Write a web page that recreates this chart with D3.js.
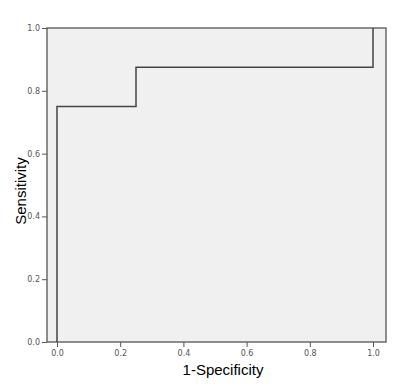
<!DOCTYPE html>
<meta charset="utf-8">
<style>
    body { margin: 0; background: #fff; }
    .tick text { font-family: "DejaVu Sans", sans-serif; font-size: 8px; fill: #555; }
    .tick line { stroke: #555; }
    .domain { display: none; }
</style>
<svg width="400" height="389"></svg>
<script src="https://d3js.org/d3.v7.min.js"></script>
<script>
    // ROC curve points (1-specificity, sensitivity)
    var fpr = [0, 0, 0.25, 0.25, 1, 1];
    var tpr = [0, 0.75, 0.75, 0.875, 0.875, 1];
    var ticks = [0, 0.2, 0.4, 0.6, 0.8, 1.0];

    var svg = d3.select("svg");
    var mLeft = 47, mRight = 386, mTop = 28, mBottom = 342;

    var x = d3.scaleLinear().domain([-0.0316, 1.0411]).range([mLeft, mRight]);
    var y = d3.scaleLinear().domain([0, 1]).range([mBottom, mTop]);

    svg.append("rect")
        .attr("x", mLeft).attr("y", mTop)
        .attr("width", mRight - mLeft).attr("height", mBottom - mTop)
        .attr("fill", "#f0f0f0")
        .attr("stroke", "#6a6a6a")
        .attr("stroke-width", 1.5);

    svg.append("g")
        .attr("transform", "translate(0," + mBottom + ")")
        .call(d3.axisBottom(x).tickValues(ticks).tickFormat(d3.format(".1f")).tickSize(5).tickPadding(3));

    svg.append("g")
        .attr("transform", "translate(" + mLeft + ",0)")
        .call(d3.axisLeft(y).tickValues(ticks).tickFormat(d3.format(".1f")).tickSize(5).tickPadding(2));

    var line = d3.line()
        .x(function (d) { return x(d[0]); })
        .y(function (d) { return y(d[1]); });

    svg.append("path")
        .datum(d3.zip(fpr, tpr))
        .attr("d", line)
        .attr("fill", "none")
        .attr("stroke", "#444")
        .attr("stroke-width", 1.5);

    svg.append("text")
        .attr("x", 223)
        .attr("y", 375)
        .attr("text-anchor", "middle")
        .attr("font-family", "Liberation Sans, Arial, sans-serif")
        .attr("font-size", 15)
        .text("1-Specificity");

    svg.append("text")
        .attr("transform", "translate(26,191)rotate(-90)")
        .attr("text-anchor", "middle")
        .attr("font-family", "Liberation Sans, Arial, sans-serif")
        .attr("font-size", 15)
        .text("Sensitivity");
</script>
